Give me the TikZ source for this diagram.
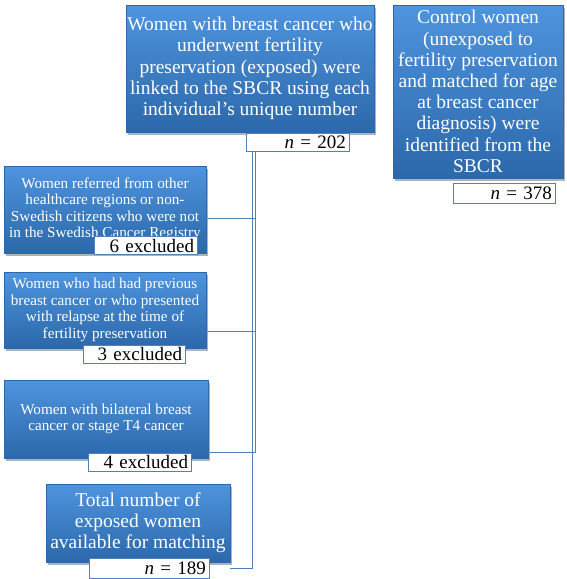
\documentclass[tikz,border=0pt]{standalone}
\usepackage{fontspec}
\setmainfont{Liberation Serif}
\usetikzlibrary{shadows}
\definecolor{btop}{RGB}{78,148,222}
\definecolor{bbot}{RGB}{44,104,170}
\definecolor{lineblue}{RGB}{79,129,189}
\begin{document}
\begin{tikzpicture}[x=1pt,y=-1pt,
 bluebox/.style={rectangle, top color=btop, bottom color=bbot, draw=bbot, line width=0.3pt,
   text=white, align=center, inner xsep=0pt, inner ysep=0pt,
   drop shadow={shadow xshift=2pt, shadow yshift=-2.5pt, fill=black, opacity=0.3}},
 big/.style={font=\fontsize{19.5}{21.2}\selectfont},
 small/.style={font=\fontsize{15.2}{16.5}\selectfont},
 numbox/.style={rectangle, fill=white, draw=lineblue, line width=0.8pt, align=right,
   inner xsep=3pt, inner ysep=0pt, font=\fontsize{19}{20}\selectfont},
 conn/.style={draw=lineblue, line width=0.8pt}]
\useasboundingbox (0,0) rectangle (567,579);

% blue boxes
\node[bluebox,big,minimum width=248pt,minimum height=127pt] (top) at (250,68.5)
 {Women with breast cancer who\\ underwent fertility\\ preservation (exposed) were\\ linked to the SBCR using each\\ individual’s unique number};
\node[bluebox,big,minimum width=170pt,minimum height=173pt] (ctrl) at (478,91.5)
 {Control women\\ (unexposed to\\ fertility preservation\\ and matched for age\\ at breast cancer\\ diagnosis) were\\ identified from the\\ SBCR};
\node[bluebox,small,minimum width=202pt,minimum height=87pt] (box1) at (105,209.5)
 {Women referred from other\\ healthcare regions or non-\\ Swedish citizens who were not\\ in the Swedish Cancer Registry};
\node[bluebox,small,minimum width=202pt,minimum height=76pt] (box2) at (105,310)
 {Women who had had previous\\ breast cancer or who presented\\ with relapse at the time of\\ fertility preservation};
\node[bluebox,small,minimum width=204pt,minimum height=78pt] (box3) at (106,419)
 {Women with bilateral breast\\ cancer or stage T4 cancer};
\node[bluebox,big,minimum width=184pt,minimum height=78pt] (box4) at (138,523)
 {Total number of\\ exposed women\\ available for matching};

% number boxes
\node[numbox,text width=97pt,minimum height=18pt] (n202) at (297.5,142) {\textit{n} = 202};
\node[numbox,text width=96pt,minimum height=20pt] (n378) at (504,193) {\textit{n} = 378};
\node[numbox,text width=97pt,minimum height=18pt] (ex6) at (145.5,245.5) {6 excluded};
\node[numbox,text width=96pt,minimum height=18pt] (ex3) at (134,354) {3 excluded};
\node[numbox,text width=97pt,minimum height=18pt] (ex4) at (139.5,462) {4 excluded};
\node[numbox,text width=114pt,minimum height=20pt] (n189) at (149,568) {\textit{n} = 189};

% connectors
\coordinate (colO) at (255.5,0);
\coordinate (colI) at (252.5,0);
\coordinate (b1) at ([yshift=-8.5pt]box1.east);
\coordinate (b2) at ([yshift=-21pt]box2.east);
\coordinate (b3) at ([yshift=-33pt]box3.east);
\coordinate (e4) at ([yshift=-6pt]box4.south east);
\draw[conn] (n202.south -| colO) -- (colO |- b3) -- (b3);
\draw[conn] (b1) -- (b1 -| colO);
\draw[conn] (b2) -- (b2 -| colO);
\draw[conn] (n202.south -| colI) -- (colI |- e4) -- (e4);
\end{tikzpicture}
\end{document}
